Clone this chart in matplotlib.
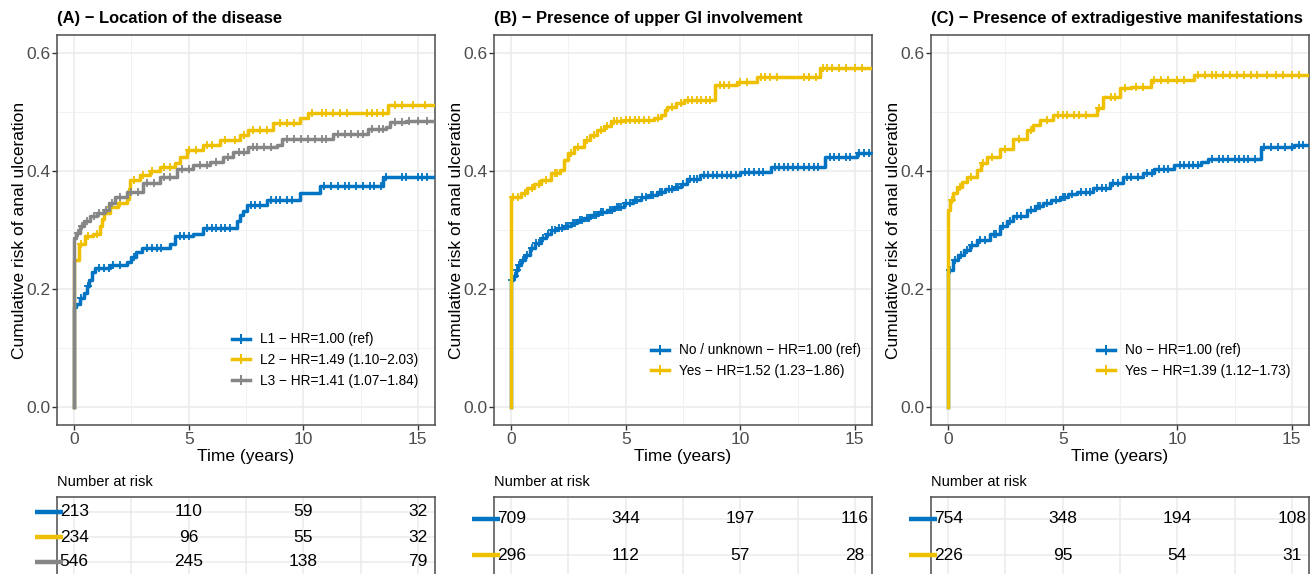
import matplotlib
matplotlib.use("Agg")
import matplotlib.pyplot as plt
import numpy as np
from matplotlib.ticker import FormatStrFormatter, MultipleLocator

plt.rcParams["font.family"] = ["Liberation Sans", "DejaVu Sans"]

BLUE = "#0073C2"
YELLOW = "#EFC000"
GRAY = "#868686"

# ---- panel A : location of the disease ----
A_L1_t = [0, 0, 0.10, 0.25, 0.41, 0.55, 0.65, 0.77, 0.92, 1.57, 2.30, 2.50, 2.70, 2.95, 4.19, 4.40,
          5.20, 5.64, 7.10, 7.25, 7.38, 7.53, 8.40, 9.86, 10.73, 13.49, 15.65]
A_L1_v = [0, 0.170, 0.175, 0.185, 0.193, 0.205, 0.215, 0.229, 0.236, 0.241, 0.246, 0.255, 0.262, 0.270,
          0.277, 0.289, 0.294, 0.303, 0.315, 0.325, 0.333, 0.342, 0.351, 0.362, 0.374, 0.390, 0.390]
A_L1_cens = [0.3, 0.6, 1.1, 1.3, 1.5, 1.7, 2.0, 2.6, 3.2, 3.4, 3.6, 3.8, 4.6, 4.8, 5.0, 5.8, 6.0, 6.2,
             6.4, 6.6, 6.8, 7.7, 7.9, 8.1, 8.6, 8.8, 9.0, 9.3, 9.5, 10.9, 11.2, 11.5, 11.8, 12.0, 12.3,
             12.6, 12.9, 13.1, 13.4, 13.6, 14.3, 14.5, 15.0, 15.2, 15.4]

A_L2_t = [0, 0, 0.19, 0.48, 0.84, 1.13, 1.20, 1.28, 1.57, 1.93, 2.30, 2.40, 2.44, 2.88, 3.30, 3.75,
          4.40, 4.62, 4.91, 5.64, 6.37, 7.24, 7.60, 8.69, 9.86, 10.22, 13.70, 15.65]
A_L2_v = [0, 0.249, 0.277, 0.289, 0.294, 0.306, 0.318, 0.328, 0.339, 0.345, 0.353, 0.370, 0.385, 0.393,
          0.400, 0.407, 0.413, 0.424, 0.436, 0.444, 0.453, 0.461, 0.469, 0.481, 0.490, 0.499, 0.512, 0.512]
A_L2_cens = [0.3, 0.6, 1.0, 1.6, 2.0, 2.6, 3.0, 3.4, 3.9, 4.2, 5.0, 5.3, 5.8, 6.0, 6.6, 7.0, 7.4, 7.8,
             8.1, 8.4, 9.0, 9.3, 9.6, 10.4, 10.8, 11.0, 11.3, 11.6, 11.9, 12.8, 13.0, 13.2, 13.5,
             14.0, 14.3, 14.8, 15.3]

A_L3_t = [0, 0, 0.10, 0.26, 0.45, 0.70, 1.00, 1.28, 1.50, 1.79, 2.30, 3.02, 3.75, 4.48, 5.20, 5.93,
          6.51, 6.95, 7.60, 8.84, 9.06, 11.31, 12.83, 13.63, 13.78, 14.50, 15.65]
A_L3_v = [0, 0.287, 0.295, 0.306, 0.315, 0.323, 0.328, 0.334, 0.345, 0.356, 0.365, 0.379, 0.390, 0.404,
          0.410, 0.416, 0.424, 0.433, 0.441, 0.444, 0.455, 0.463, 0.471, 0.474, 0.483, 0.485, 0.485]
A_L3_cens = [0.15, 0.35, 0.55, 0.85, 1.1, 1.4, 1.65, 2.0, 2.5, 2.8, 3.2, 3.5, 3.9, 4.2, 4.7, 5.0, 5.5,
             5.8, 6.2, 6.7, 7.2, 7.4, 7.8, 8.0, 8.3, 8.6, 9.3, 9.6, 9.9, 10.2, 10.5, 10.8, 11.0, 11.5,
             11.8, 12.1, 12.4, 12.6, 13.0, 13.3, 13.5, 14.0, 14.3, 14.6, 15.0, 15.4]

# ---- panel B : upper GI involvement ----
B_no_t = [0, 0, 0.10, 0.19, 0.30, 0.41, 0.60, 0.84, 1.05, 1.28, 1.50, 1.72, 2.00, 2.30, 2.60, 2.88,
          3.20, 3.46, 3.80, 4.19, 4.50, 4.92, 5.30, 5.65, 6.00, 6.38, 6.70, 7.11, 7.40, 7.69, 8.26,
          10.00, 11.32, 13.72, 15.10, 15.75]
B_no_v = [0, 0.215, 0.222, 0.232, 0.240, 0.249, 0.258, 0.269, 0.278, 0.286, 0.293, 0.300, 0.303, 0.306,
          0.312, 0.317, 0.321, 0.325, 0.330, 0.334, 0.339, 0.345, 0.350, 0.356, 0.360, 0.365, 0.369,
          0.373, 0.378, 0.386, 0.393, 0.399, 0.407, 0.424, 0.430, 0.430]
B_no_cens = [0.05, 0.15, 0.25, 0.35, 0.5, 0.7, 0.9, 1.1, 1.2, 1.4, 1.6, 1.8, 1.9, 2.1, 2.2, 2.4, 2.5,
             2.7, 2.8, 3.0, 3.1, 3.3, 3.4, 3.6, 3.7, 3.9, 4.0, 4.3, 4.4, 4.6, 4.7, 4.8, 5.0, 5.2, 5.4,
             5.5, 5.7, 5.9, 6.1, 6.2, 6.5, 6.6, 6.9, 7.0, 7.2, 7.3, 7.5, 7.8, 8.0, 8.1, 8.4, 8.6, 8.8,
             9.0, 9.2, 9.4, 9.6, 9.8, 10.2, 10.4, 10.6, 10.8, 11.0, 11.5, 11.7, 11.9, 12.1, 12.3, 12.5,
             12.8, 13.0, 13.2, 13.4, 13.9, 14.1, 14.3, 14.6, 14.8, 15.2, 15.4, 15.6]

B_yes_t = [0, 0, 0.45, 0.70, 1.00, 1.28, 1.72, 2.15, 2.30, 2.50, 2.74, 3.17, 3.45, 3.76, 4.05, 4.34,
           4.92, 6.23, 6.52, 6.70, 6.81, 7.20, 7.54, 8.91, 9.86, 10.73, 13.50, 15.75]
B_yes_v = [0, 0.356, 0.363, 0.371, 0.378, 0.385, 0.396, 0.402, 0.419, 0.430, 0.441, 0.453, 0.461, 0.469,
           0.477, 0.484, 0.486, 0.489, 0.495, 0.503, 0.509, 0.515, 0.520, 0.546, 0.551, 0.560, 0.574, 0.574]
B_yes_cens = [0.1, 0.3, 0.6, 0.9, 1.2, 1.5, 1.9, 2.0, 2.6, 2.9, 3.3, 3.6, 3.9, 4.2, 4.5, 4.6, 4.8, 5.0,
              5.2, 5.4, 5.6, 5.8, 6.0, 6.4, 7.0, 7.4, 7.7, 7.9, 8.1, 8.3, 8.5, 8.7, 9.1, 9.3, 9.5, 10.0,
              10.3, 10.9, 11.1, 11.3, 11.6, 12.8, 13.0, 13.3, 13.6, 13.8, 14.0, 14.3, 14.6, 15.0, 15.3]

# ---- panel C : extradigestive manifestations ----
C_no_t = [0, 0, 0.23, 0.45, 0.67, 0.95, 1.25, 1.83, 2.27, 2.55, 2.85, 3.43, 3.80, 4.16, 4.50, 4.88,
          5.25, 5.61, 6.34, 7.06, 7.64, 8.50, 9.00, 9.87, 11.03, 11.32, 13.65, 15.10, 15.75]
C_no_v = [0, 0.232, 0.249, 0.258, 0.266, 0.275, 0.283, 0.294, 0.306, 0.315, 0.323, 0.334, 0.340, 0.345,
          0.350, 0.356, 0.361, 0.365, 0.371, 0.379, 0.390, 0.397, 0.404, 0.410, 0.416, 0.421, 0.441,
          0.444, 0.444]
C_no_cens = [0.1, 0.3, 0.55, 0.8, 1.05, 1.4, 1.6, 2.0, 2.1, 2.4, 2.7, 3.0, 3.2, 3.6, 3.9, 4.0, 4.3,
             4.7, 5.0, 5.1, 5.4, 5.8, 6.0, 6.2, 6.5, 6.7, 6.9, 7.2, 7.4, 7.8, 8.0, 8.3, 8.7, 8.9, 9.2,
             9.4, 9.6, 10.1, 10.3, 10.5, 10.7, 10.9, 11.5, 11.8, 12.0, 12.2, 12.5, 12.7, 12.9, 13.1,
             13.4, 13.8, 14.1, 14.4, 14.7, 15.0, 15.3, 15.5]

C_yes_t = [0, 0, 0.09, 0.20, 0.38, 0.60, 0.81, 1.25, 1.45, 1.68, 2.27, 2.85, 3.43, 3.70, 4.01, 4.59,
           6.48, 6.77, 7.50, 7.98, 8.85, 10.74, 15.75]
C_yes_v = [0, 0.334, 0.351, 0.362, 0.373, 0.382, 0.390, 0.402, 0.413, 0.424, 0.438, 0.455, 0.469, 0.478,
           0.486, 0.495, 0.506, 0.526, 0.540, 0.543, 0.554, 0.563, 0.563]
C_yes_cens = [0.15, 0.5, 1.0, 1.5, 1.9, 2.5, 3.1, 3.6, 4.3, 4.8, 5.0, 5.2, 5.5, 5.7, 6.0, 6.6, 7.1,
              7.3, 7.7, 8.2, 8.5, 9.0, 9.3, 9.6, 10.0, 10.3, 10.9, 11.2, 11.5, 11.7, 12.0, 12.3, 12.6,
              12.9, 13.2, 13.5, 13.9, 14.3, 14.6, 15.0, 15.3]

# number at risk
RISK_TIMES = [0, 5, 10, 15]
A_risk = [[213, 110, 59, 32], [234, 96, 55, 32], [546, 245, 138, 79]]
B_risk = [[709, 344, 197, 116], [296, 112, 57, 28]]
C_risk = [[754, 348, 194, 108], [226, 95, 54, 31]]

panels = [
    {
        "title": "(A) \u2212 Location of the disease",
        "curves": [(A_L1_t, A_L1_v, A_L1_cens), (A_L2_t, A_L2_v, A_L2_cens), (A_L3_t, A_L3_v, A_L3_cens)],
        "labels": ["L1 \u2212 HR=1.00 (ref)", "L2 \u2212 HR=1.49 (1.10\u22122.03)", "L3 \u2212 HR=1.41 (1.07\u22121.84)"],
        "colors": [BLUE, YELLOW, GRAY],
        "risk": A_risk,
        "left": 57, "leg": (0.955, 0.095),
    },
    {
        "title": "(B) \u2212 Presence of upper GI involvement",
        "curves": [(B_no_t, B_no_v, B_no_cens), (B_yes_t, B_yes_v, B_yes_cens)],
        "labels": ["No / unknown \u2212 HR=1.00 (ref)", "Yes \u2212 HR=1.52 (1.23\u22121.86)"],
        "colors": [BLUE, YELLOW],
        "risk": B_risk,
        "left": 494, "leg": (0.97, 0.12),
    },
    {
        "title": "(C) \u2212 Presence of extradigestive manifestations",
        "curves": [(C_no_t, C_no_v, C_no_cens), (C_yes_t, C_yes_v, C_yes_cens)],
        "labels": ["No \u2212 HR=1.00 (ref)", "Yes \u2212 HR=1.39 (1.12\u22121.73)"],
        "colors": [BLUE, YELLOW],
        "risk": C_risk,
        "left": 931, "leg": (0.95, 0.12),
    },
]

W, H = 1316, 574
fig = plt.figure(figsize=(W / 100, H / 100), dpi=100)

AX_W = 378
MAIN_TOP, MAIN_BOT = 35, 425
TAB_TOP, TAB_BOT = 497, 577
XLIM = (-0.75, 15.75)
YLIM = (-0.0305, 0.6305)
SPINE = "#4D4D4D"
GRID = "#EBEBEB"

for p in panels:
    l = p["left"] / W
    ax = fig.add_axes([l, 1 - MAIN_BOT / H, AX_W / W, (MAIN_BOT - MAIN_TOP) / H])
    ax.set_xlim(*XLIM)
    ax.set_ylim(*YLIM)
    ax.xaxis.set_major_locator(MultipleLocator(5))
    ax.xaxis.set_minor_locator(MultipleLocator(2.5))
    ax.yaxis.set_major_locator(MultipleLocator(0.2))
    ax.yaxis.set_minor_locator(MultipleLocator(0.1))
    ax.yaxis.set_major_formatter(FormatStrFormatter("%.1f"))
    ax.grid(True, which="major", color=GRID, lw=1.1)
    ax.grid(True, which="minor", color="#F2F2F2", lw=0.7)
    ax.set_axisbelow(True)
    ax.tick_params(which="major", length=3.5, width=1, color="#333333", labelcolor="#4D4D4D",
                   labelsize=12.5, pad=1.5)
    ax.tick_params(which="minor", length=0)
    for s in ax.spines.values():
        s.set_color(SPINE)
        s.set_linewidth(1.1)

    handles = []
    for (t, v, cens), col, lab in zip(p["curves"], p["colors"], p["labels"]):
        ax.step(t, v, where="post", color=col, lw=2.5, zorder=3)
        t_arr = np.asarray(t)
        v_arr = np.asarray(v)
        idx = np.searchsorted(t_arr, cens, side="right") - 1
        ax.plot(cens, v_arr[idx], ls="none", marker="+", ms=5.5, mew=1.3, color=col, zorder=3)
        h, = ax.plot([], [], color=col, lw=2.5, marker="+", ms=7, mew=1.4)
        handles.append(h)

    ax.legend(handles, p["labels"], loc="lower right", bbox_to_anchor=p["leg"], frameon=False,
              fontsize=9.8, handlelength=1.3, handletextpad=0.7, labelspacing=0.5,
              borderpad=0, borderaxespad=0)

    ax.set_xlabel("Time (years)", fontsize=12.5)
    ax.xaxis.set_label_coords(0.5, -(456 - MAIN_BOT) / (MAIN_BOT - MAIN_TOP))
    ax.xaxis.label.set_va("center")
    ax.set_ylabel("Cumulative risk of anal ulceration", fontsize=12.5)
    ax.yaxis.set_label_coords(-0.1, 0.5)
    ax.yaxis.label.set_va("center")

    fig.text(l, 1 - 19 / H, p["title"], fontsize=11.9, fontweight="bold", ha="left", va="center")

    # risk table
    tab = fig.add_axes([l, 1 - TAB_BOT / H, AX_W / W, (TAB_BOT - TAB_TOP) / H])
    n = len(p["risk"])
    tab.set_xlim(*XLIM)
    tab.set_ylim(n + 0.6, 0.4)
    tab.xaxis.set_major_locator(MultipleLocator(2.5))
    tab.set_yticks(range(1, n + 1))
    tab.grid(True, color=GRID, lw=1.1)
    tab.set_axisbelow(True)
    tab.tick_params(length=0, labelleft=False, labelbottom=False)
    for s in tab.spines.values():
        s.set_color(SPINE)
        s.set_linewidth(1.1)
    for row, (counts, col) in enumerate(zip(p["risk"], p["colors"]), start=1):
        for tt, c in zip(RISK_TIMES, counts):
            tab.text(tt, row, str(c), ha="center", va="center", fontsize=12.5, color="black")
        tab.plot([-0.058, 0.016], [row, row], transform=tab.get_yaxis_transform(), color=col,
                 lw=3.2, solid_capstyle="butt", clip_on=False, zorder=4)
    tab.text(0, 1 + (TAB_TOP - 482) / (TAB_BOT - TAB_TOP), "Number at risk", transform=tab.transAxes,
             ha="left", va="center", fontsize=10.5)

fig.savefig("out.png", dpi=100)
